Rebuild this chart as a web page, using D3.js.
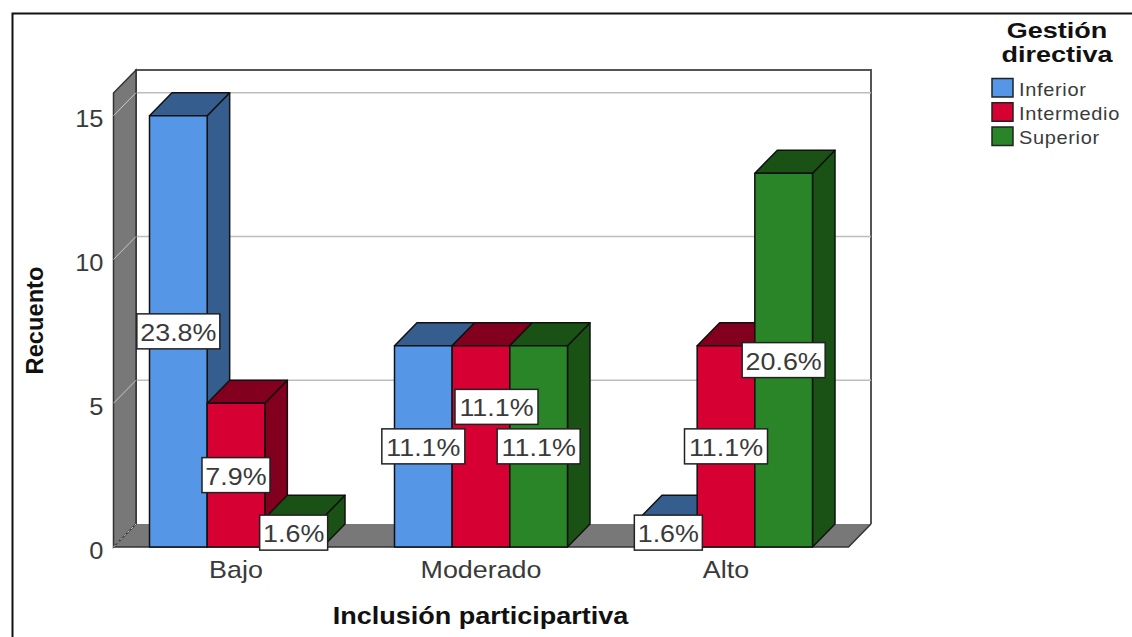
<!DOCTYPE html>
<html lang="es">
<head>
<meta charset="utf-8">
<title>Inclusión participartiva por Gestión directiva</title>
<script src="https://cdnjs.cloudflare.com/ajax/libs/d3/7.8.5/d3.min.js"></script>
<style>
  html, body { margin: 0; padding: 0; background: #fff; }
  svg { display: block; font-family: "Liberation Sans", Arial, sans-serif; }
</style>
</head>
<body>
<svg id="chart" width="1132" height="637"></svg>
<script>
// Counts per category and series
const categories = ["Bajo", "Moderado", "Alto"];
const seriesNames = ["Inferior", "Intermedio", "Superior"];
const inferior = [15, 7, 1];
const intermedio = [5, 7, 7];
const superior = [1, 7, 13];
const percentInferior = ["23.8%", "11.1%", "1.6%"];
const percentIntermedio = ["7.9%", "11.1%", "11.1%"];
const percentSuperior = ["1.6%", "11.1%", "20.6%"];
const yTicks = [0, 5, 10, 15];
const frontColors = ["#5596e6", "#d60032", "#2a8528"];
const shadeColors = ["#355e8f", "#82001e", "#1a5216"];

const W = 1132, H = 637;
const depthX = 22.5, depthY = 23;
const plotLeft = 113.5, plotRight = 848.5, plotBase = 547, plotTop = 93;
const groupWidth = 173;
const stretch = 1.12;   // horizontal widening of all lettering

const svg = d3.select("#chart");
const y = d3.scaleLinear().domain([0, 15.79]).range([plotBase, plotTop]);
const x0 = d3.scaleBand().domain(categories).range([plotLeft, plotRight]);
const x1 = d3.scaleBand().domain(seriesNames).range([0, groupWidth]);
const groupStart = c => x0(c) + (x0.bandwidth() - groupWidth) / 2;
const poly = pts => pts.map(p => p.join(",")).join(" ");

// Frame around the chart
svg.append("path")
  .attr("d", `M12.5,${H} V13.5 H${W}`)
  .attr("fill", "none").attr("stroke", "#111").attr("stroke-width", 2);

// Back wall
svg.append("path")
  .attr("d", `M${plotLeft + depthX},${plotBase - depthY} V${plotTop - depthY} H${plotRight + depthX} V${plotBase - depthY}`)
  .attr("fill", "#fff").attr("stroke", "#555").attr("stroke-width", 2);

// Horizontal gridlines on the back wall
svg.append("g").selectAll("line").data(yTicks.filter(t => t > 0)).join("line")
  .attr("x1", plotLeft + depthX).attr("x2", plotRight + depthX)
  .attr("y1", d => y(d) - depthY).attr("y2", d => y(d) - depthY)
  .attr("stroke", "#bdbdbd").attr("stroke-width", 1.5);

// Floor, outlined along its front and right edges only
svg.append("polygon")
  .attr("points", poly([[plotLeft, plotBase], [plotRight, plotBase], [plotRight + depthX, plotBase - depthY], [plotLeft + depthX, plotBase - depthY]]))
  .attr("fill", "#787878");
svg.append("path")
  .attr("d", `M${plotLeft},${plotBase} H${plotRight} L${plotRight + depthX},${plotBase - depthY}`)
  .attr("fill", "none").attr("stroke", "#333").attr("stroke-width", 1.5);

// Left wall
svg.append("polygon")
  .attr("points", poly([[plotLeft, plotBase], [plotLeft, plotTop], [plotLeft + depthX, plotTop - depthY], [plotLeft + depthX, plotBase - depthY]]))
  .attr("fill", "#787878").attr("stroke", "#333").attr("stroke-width", 1.5);

// Gridline continuation across the left wall
svg.append("g").selectAll("line").data(yTicks).join("line")
  .attr("x1", plotLeft).attr("x2", plotLeft + depthX)
  .attr("y1", d => y(d)).attr("y2", d => y(d) - depthY)
  .attr("stroke", "#c8c8c8").attr("stroke-width", 1)
  .attr("stroke-dasharray", d => d === 0 ? "3 2" : null);

// Bars, painted left to right so each one overlaps its neighbour's side
const valuesBySeries = [inferior, intermedio, superior];
const percentBySeries = [percentInferior, percentIntermedio, percentSuperior];
const cells = [];
categories.forEach((c, ci) => seriesNames.forEach((s, si) => {
  cells.push({ c, s, si, value: valuesBySeries[si][ci], label: percentBySeries[si][ci] });
}));

const bars = svg.append("g").attr("stroke", "#111").attr("stroke-width", 1.5).attr("stroke-linejoin", "round");
cells.forEach(d => {
  const xa = groupStart(d.c) + x1(d.s), xb = xa + x1.bandwidth();
  const yt = y(d.value);
  bars.append("polygon")
    .attr("points", poly([[xb, plotBase], [xb, yt], [xb + depthX, yt - depthY], [xb + depthX, plotBase - depthY]]))
    .attr("fill", shadeColors[d.si]);
  bars.append("polygon")
    .attr("points", poly([[xa, yt], [xb, yt], [xb + depthX, yt - depthY], [xa + depthX, yt - depthY]]))
    .attr("fill", shadeColors[d.si]);
  bars.append("rect")
    .attr("x", xa).attr("y", yt).attr("width", x1.bandwidth()).attr("height", plotBase - yt)
    .attr("fill", frontColors[d.si]);
});

// Lettering helper: widened text anchored at a point
function label(parent, str, px, py, size, opts = {}) {
  return parent.append("text")
    .attr("transform", `translate(${px},${py}) ${opts.rotate ? `rotate(${opts.rotate}) ` : ""}scale(${opts.sx || stretch},1)`)
    .attr("text-anchor", opts.anchor || "middle")
    .attr("dominant-baseline", "central")
    .attr("font-size", size)
    .attr("font-weight", opts.bold ? "bold" : "normal")
    .attr("fill", opts.fill || "#3a3a3a")
    .text(str);
}

// Value labels; the middle Moderado label is lifted clear of its neighbours
const labelLayer = svg.append("g");
cells.forEach(d => {
  const dodge = d.c === "Moderado" && d.s === "Intermedio";
  const cx = groupStart(d.c) + x1(d.s) + x1.bandwidth() / 2 + (dodge ? 15.5 : 0);
  const cy = y(d.value / 2) + (dodge ? -39.5 : 0);
  const w = d.label.length === 5 ? 83 : 68, h = 35;
  labelLayer.append("rect")
    .attr("x", cx - w / 2).attr("y", cy - h / 2).attr("width", w).attr("height", h)
    .attr("fill", "#fff").attr("stroke", "#222").attr("stroke-width", 1.5);
  label(labelLayer, d.label, cx, cy + 1, 24);
});

// Axes
const yAxis = svg.append("g")
  .attr("transform", `translate(${plotLeft - 10},3)`)
  .call(d3.axisLeft(y).tickValues(yTicks).tickSize(0).tickPadding(0).tickFormat(d3.format("d")));
yAxis.select(".domain").remove();
yAxis.attr("font-family", null).attr("font-size", null);
yAxis.selectAll("text")
  .attr("x", 0).attr("dy", null).attr("dominant-baseline", "central")
  .attr("font-size", 24).attr("fill", "#3a3a3a")
  .attr("transform", `scale(1.06,1)`);

const xAxis = svg.append("g")
  .attr("transform", `translate(0,570)`)
  .call(d3.axisBottom(x0).tickSize(0).tickPadding(0));
xAxis.select(".domain").remove();
xAxis.attr("font-family", null).attr("font-size", null);
xAxis.selectAll("g.tick").each(function () {
  const tick = d3.select(this);
  tick.select("text")
    .attr("y", 0).attr("dy", null).attr("dominant-baseline", "central")
    .attr("font-size", 24).attr("fill", "#3a3a3a")
    .attr("transform", `scale(${stretch},1)`);
});

// Axis titles
label(svg, "Inclusión participartiva", 480.5, 616, 23, { bold: true, fill: "#111", sx: 1.175 });
label(svg, "Recuento", 35, 320.5, 23, { bold: true, rotate: -90, sx: 1.03, fill: "#111" });

// Legend
label(svg, "Gestión", 1057, 30.5, 21.5, { bold: true, fill: "#111", sx: 1.257 });
label(svg, "directiva", 1057, 55, 21.5, { bold: true, fill: "#111", sx: 1.257 });
const legendY = d3.scalePoint().domain(seriesNames).range([88, 136.5]);
seriesNames.forEach((s, i) => {
  svg.append("rect")
    .attr("x", 992).attr("y", legendY(s) - 9.5).attr("width", 21).attr("height", 18.5)
    .attr("fill", frontColors[i]).attr("stroke", "#222").attr("stroke-width", 1.5);
  label(svg, s, 1019, legendY(s) + 1.5, 18, { anchor: "start", sx: 1.11 }).attr("letter-spacing", 0.6);
});
</script>
</body>
</html>
